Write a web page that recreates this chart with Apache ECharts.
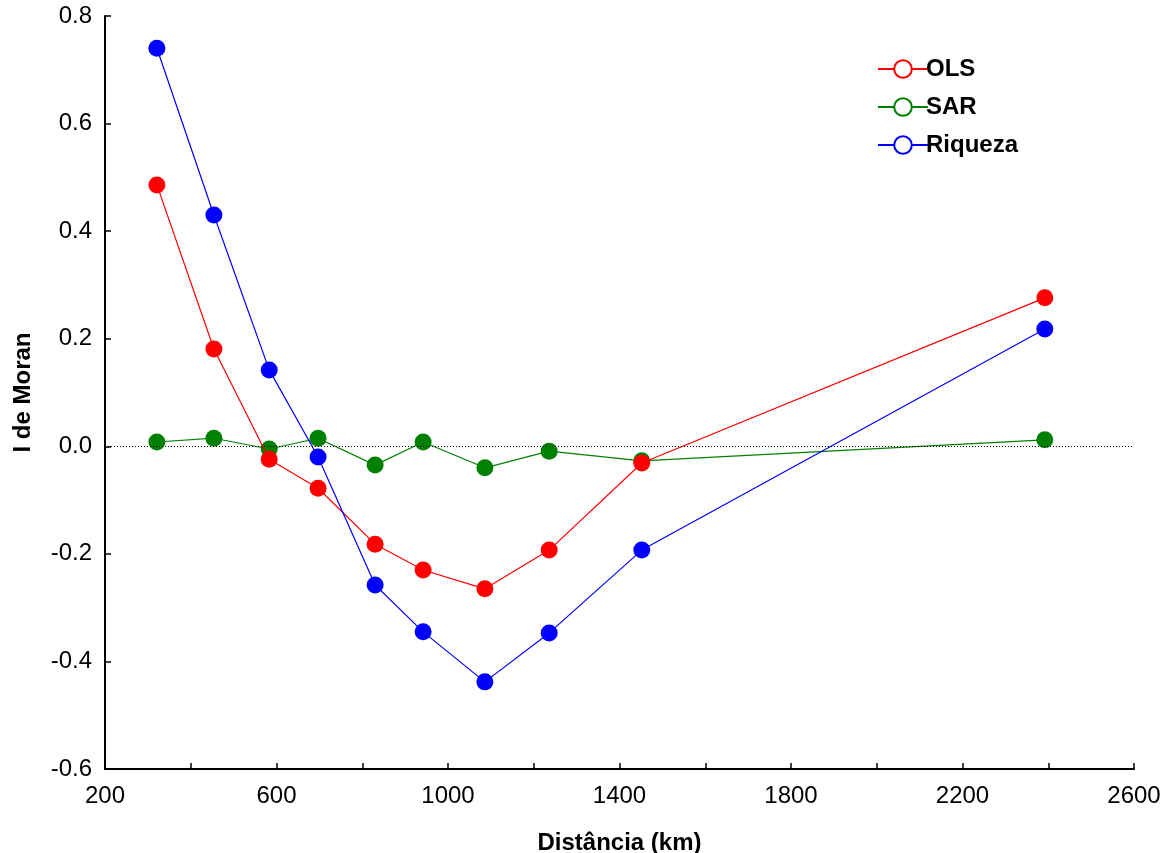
<!DOCTYPE html>
<html>
<head>
<meta charset="utf-8">
<script src="https://cdn.jsdelivr.net/npm/echarts@6/dist/echarts.min.js"></script>
<style>
  html, body { margin: 0; padding: 0; background: #fff; }
  #chart { width: 1173px; height: 853px; }
</style>
</head>
<body>
<div id="chart"></div>
<script>
// distances (km) of each lag class
var distances = [321, 454, 583, 697, 830, 942, 1086, 1236, 1452, 2392];
// Moran's I per series
var olsValues = [0.486, 0.181, -0.024, -0.078, -0.182, -0.230, -0.265, -0.193, -0.031, 0.276];
var sarValues = [0.008, 0.015, -0.005, 0.015, -0.035, 0.008, -0.040, -0.009, -0.027, 0.012];
var riquezaValues = [0.740, 0.430, 0.142, -0.020, -0.258, -0.345, -0.438, -0.347, -0.193, 0.218];
var seriesNames = ['OLS', 'SAR', 'Riqueza'];
var seriesColors = ['#ff0000', '#008000', '#0000ff'];

function pairs(xs, ys) {
    return xs.map(function (x, i) { return [x, ys[i]]; });
}

var chart = echarts.init(document.getElementById('chart'));

var font = 'Liberation Sans, Arial, sans-serif';

function lineSeries(name, values, color) {
    return {
        name: name,
        type: 'line',
        data: pairs(distances, values),
        symbol: 'circle',
        symbolSize: 17,
        color: color,
        lineStyle: { color: color, width: 1.2 },
        itemStyle: { color: color },
        emphasis: { disabled: true },
        animation: false
    };
}

var series = [
    lineSeries(seriesNames[0], olsValues, seriesColors[0]),
    lineSeries(seriesNames[1], sarValues, seriesColors[1]),
    lineSeries(seriesNames[2], riquezaValues, seriesColors[2])
];
// dotted zero line
series[1].markLine = {
    silent: true,
    symbol: 'none',
    label: { show: false },
    lineStyle: { color: '#000', type: [1, 2], width: 1 },
    data: [{ yAxis: 0 }],
    animation: false
};
series[1].z = 1;

// legend items: line with hollow circle
var legendData = seriesNames.map(function (n, i) {
    return {
        name: n,
        itemStyle: { color: '#fff', borderColor: seriesColors[i], borderWidth: 2 },
        lineStyle: { color: seriesColors[i], width: 2 }
    };
});

var option = {
    backgroundColor: '#fff',
    animation: false,
    grid: { left: 105, right: 39, top: 16, bottom: 84, outerBoundsMode: 'none' },
    legend: {
        data: legendData,
        orient: 'vertical',
        left: 877,
        top: 57,
        padding: 0,
        itemWidth: 50,
        itemHeight: 22,
        itemGap: 14,
        textStyle: { fontFamily: font, fontSize: 24, fontWeight: 'bold', color: '#000', padding: [0, 0, 0, -7] }
    },
    xAxis: {
        type: 'value',
        min: 200,
        max: 2600,
        interval: 200,
        name: 'Distância (km)',
        nameLocation: 'middle',
        nameGap: 62,
        nameTextStyle: { fontFamily: font, fontSize: 24, fontWeight: 'bold', color: '#000' },
        axisLine: { onZero: false, lineStyle: { color: '#000', width: 2 } },
        axisTick: { inside: true, length: 6, lineStyle: { color: '#000', width: 1.5 } },
        splitLine: { show: false },
        axisLabel: {
            fontFamily: font, fontSize: 24, color: '#000', margin: 15,
            formatter: function (v) { return (v - 200) % 400 === 0 ? String(v) : ''; }
        }
    },
    yAxis: {
        type: 'value',
        min: -0.6,
        max: 0.8,
        interval: 0.2,
        name: 'I de Moran',
        nameLocation: 'middle',
        nameGap: 70,
        nameTextStyle: { fontFamily: font, fontSize: 24, fontWeight: 'bold', color: '#000' },
        axisLine: { show: true, onZero: false, lineStyle: { color: '#000', width: 2 } },
        axisTick: { show: true, inside: true, length: 6, lineStyle: { color: '#000', width: 1.5 } },
        splitLine: { show: false },
        axisLabel: {
            fontFamily: font, fontSize: 24, color: '#000', margin: 13,
            formatter: function (v) { return v.toFixed(1); }
        }
    },
    series: series
};

chart.setOption(option);
</script>
</body>
</html>
